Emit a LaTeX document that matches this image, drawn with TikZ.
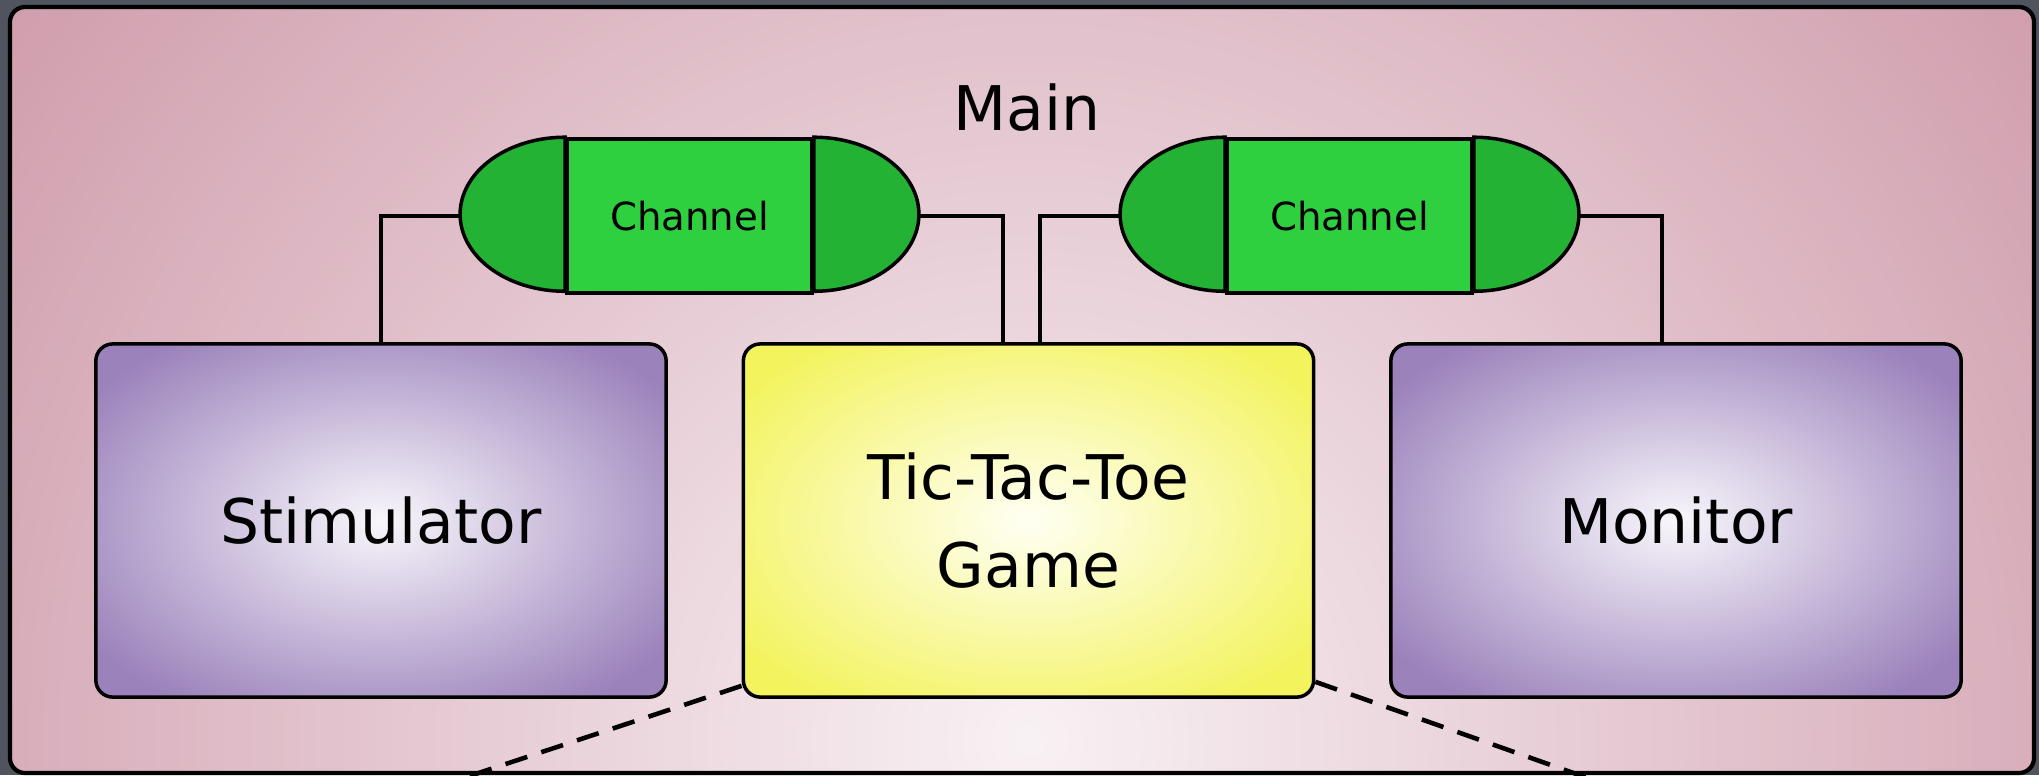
\documentclass[tikz,border=0pt]{standalone}
\usepackage{fontspec}
\setmainfont{DejaVu Sans}
\usetikzlibrary{positioning}
\definecolor{outerbg}{HTML}{50545F}
\definecolor{mainin}{HTML}{F8F1F4}
\definecolor{mainout}{HTML}{CC94A5}
\definecolor{boxin}{HTML}{F8F6FB}
\definecolor{boxout}{HTML}{9B82BB}
\definecolor{gamein}{HTML}{FFFFF4}
\definecolor{gameout}{HTML}{F3F35E}
\definecolor{chanmid}{HTML}{2FD040}
\definecolor{chanend}{HTML}{24B234}
\pgfdeclareradialshading{sideshade}{\pgfpointorigin}{color(0bp)=(boxin); color(31bp)=(boxout); color(50bp)=(boxout)}
\pgfdeclareradialshading{gameshade}{\pgfpointorigin}{color(0bp)=(gamein); color(31bp)=(gameout); color(50bp)=(gameout)}

\begin{document}
\begin{tikzpicture}
    [x=0.01cm, y=-0.01cm,
     module/.style={draw, line width=1pt, rounded corners=0.17cm, minimum width=5.70cm, minimum height=3.53cm, inner sep=0pt, align=center, font=\fontsize{17.5}{25}\selectfont},
     sidebox/.style={module, shading=sideshade},
     gamebox/.style={module, shading=gameshade},
     chan/.style={draw, line width=1pt, fill=chanmid, minimum width=2.45cm, minimum height=1.54cm, inner sep=0pt, font=\fontsize{11}{13}\selectfont},
     endcap/.style={draw, line width=1pt, fill=chanend},
     wire/.style={line width=0.9pt},
     zoomline/.style={line width=1.3pt, dash pattern=on 6.5pt off 4.2pt}]
  \useasboundingbox (0,0) rectangle (2039,775);
  \fill[outerbg] (0,0) rectangle (2039,775);
  \begin{scope}
    \clip[rounded corners=0.15cm] (10,7) rectangle (2034,773);
    \shade[inner color=mainin, outer color=mainout] (1030,740) circle (14cm);
  \end{scope}
  \draw[line width=1.2pt, rounded corners=0.15cm] (10,7) rectangle (2034,773);

  \node[font=\fontsize{17.5}{21}\selectfont, anchor=base] (title) at (1027,130) {Main};

  \node[sidebox] (stim) at (381,520.5) {Stimulator};
  \node[gamebox] (game) at (1028.5,520.5) {Tic-Tac-Toe\\Game};
  \node[sidebox] (mon) at (1676,520.5) {Monitor};

  \node[chan] (chL) at (689.5,216) {Channel};
  \node[chan] (chR) at (1349.5,216) {Channel};

  \foreach \ch in {chL,chR} {
    \draw[endcap] (\ch.north west) arc[start angle=90, end angle=270, x radius=1.05cm, y radius=0.77cm] -- cycle;
    \draw[endcap] (\ch.north east) arc[start angle=90, end angle=-90, x radius=1.05cm, y radius=0.77cm] -- cycle;
    \coordinate (\ch-in) at ([xshift=-1.05cm]\ch.west);
    \coordinate (\ch-out) at ([xshift=1.05cm]\ch.east);
  }

  \draw[wire] (stim.north) |- (chL-in);
  \draw[wire] (chL-out) -| ([xshift=-0.255cm]game.north);
  \draw[wire] ([xshift=0.115cm]game.north) |- (chR-in);
  \draw[wire] (chR-out) -| ([xshift=-0.14cm]mon.north);

  % zoom into the game
  \coordinate (zoomL) at (400,799);
  \coordinate (zoomR) at (1650,800);
  \draw[zoomline] ([yshift=0.13cm]game.south west) -- (zoomL);
  \draw[zoomline] ([yshift=0.17cm]game.south east) -- (zoomR);
\end{tikzpicture}
\end{document}
